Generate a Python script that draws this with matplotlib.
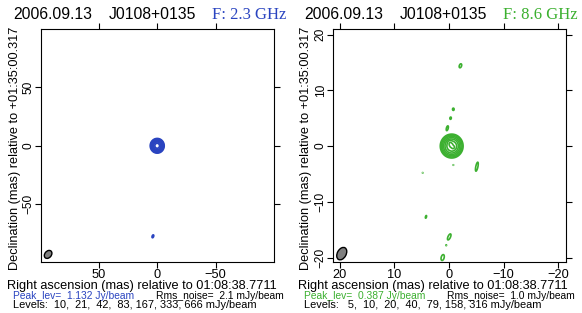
import numpy as np
import matplotlib
matplotlib.use("Agg")
import matplotlib.pyplot as plt
from matplotlib.patches import Ellipse

# ---------------- data ----------------
date = "2006.09.13"
source = "J0108+0135"
ylab = "Declination (mas) relative to +01:35:00.317"
xlab = "Right ascension (mas) relative to 01:08:38.7711"

# Left panel: 2.3 GHz model components (x mas, y mas, peak mJy/beam, major sigma, minor sigma, PA deg)
s_x = [0.0, 0.4, 3.7]
s_y = [0.0, 0.3, -77.5]
s_peak = [1100, 60, 14]
s_maj = [2.05, 1.5, 1.6]
s_min = [1.95, 1.2, 0.8]
s_pa = [0, 0, -20]
s_levels = [10, 21, 42, 83, 167, 333, 666]
s_beam = [93.4, -93.0, 7.6, 5.6, -40]  # x, y, major, minor, PA
s_ticks = [50, 0, -50]

# Right panel: 8.6 GHz model components
x_x = [-0.5, -0.2, -0.9, -0.8, -0.3, 0.3, -0.8, -5.1, 4.8, -2.1, 4.2, -0.05, 0.5, 1.15]
x_y = [0.0, 0.5, -0.3, 6.6, 5.0, 3.2, -3.4, -3.7, -4.8, 14.4, -12.7, -16.3, -17.8, -20.0]
x_peak = [330, 120, 80, 7, 7, 8, 5.6, 8, 5.6, 7, 6.5, 7.5, 5.6, 7.5]
x_maj = [0.74, 0.35, 0.3, 0.25, 0.25, 0.45, 0.12, 0.85, 0.12, 0.45, 0.35, 0.65, 0.14, 0.6]
x_min = [0.72, 0.25, 0.2, 0.18, 0.16, 0.17, 0.1, 0.2, 0.1, 0.25, 0.13, 0.25, 0.1, 0.3]
x_pa = [0, 30, -40, 0, -10, -15, 0, -12, 0, -20, -15, -25, 0, -15]
x_levels = [5, 10, 20, 40, 79, 158, 316]
x_beam = [19.6, -19.3, 2.4, 1.6, -30]
x_ticks = [20, 10, 0, -10, -20]

panels = [
    dict(x=s_x, y=s_y, peak=s_peak, maj=s_maj, mn=s_min, pa=s_pa, levels=s_levels,
         beam=s_beam, ticks=s_ticks, lim=(99.5, -100), ylim=(-99.5, 100),
         color="#2a44c0", freq="F: 2.3 GHz", peaktxt="Peak_lev=  1.132 Jy/beam",
         rms="Rms_noise=  2.1 mJy/beam",
         lev="Levels:  10,  21,  42,  83, 167, 333, 666 mJy/beam", res=0.25),
    dict(x=x_x, y=x_y, peak=x_peak, maj=x_maj, mn=x_min, pa=x_pa, levels=x_levels,
         beam=x_beam, ticks=x_ticks, lim=(21.2, -21.4), ylim=(-20.8, 21.0),
         color="#3cb030", freq="F: 8.6 GHz", peaktxt="Peak_lev=  0.387 Jy/beam",
         rms="Rms_noise=  1.0 mJy/beam",
         lev="Levels:   5,  10,  20,  40,  79, 158, 316 mJy/beam", res=0.04),
]

W, H = 582, 313
fig = plt.figure(figsize=(W / 100, H / 100), dpi=100)
plt.rcParams['font.family'] = ['Liberation Sans', 'DejaVu Sans']

ax_left_px = [41, 333]
for i, p in enumerate(panels):
    l = ax_left_px[i]
    ax = fig.add_axes([l / W, 1 - 262 / H, 233 / W, 233 / H])
    xs = np.arange(min(p["lim"]), max(p["lim"]), p["res"])
    ys = np.arange(min(p["ylim"]), max(p["ylim"]), p["res"])
    X, Y = np.meshgrid(xs, ys)
    Z = np.zeros_like(X)
    for cx, cy, pk, a, b, pa in zip(p["x"], p["y"], p["peak"], p["maj"], p["mn"], p["pa"]):
        t = np.deg2rad(pa)
        dx, dy = X - cx, Y - cy
        u = dx * np.sin(t) + dy * np.cos(t)
        v = dx * np.cos(t) - dy * np.sin(t)
        Z += pk * np.exp(-0.5 * ((u / a) ** 2 + (v / b) ** 2))
    ax.contour(X, Y, Z, levels=p["levels"], colors=p["color"], linewidths=1.2)
    bx, by, bmaj, bmin, bpa = p["beam"]
    ax.add_patch(Ellipse((bx, by), width=bmin, height=bmaj, angle=-bpa,
                         facecolor="#808080", edgecolor="black", lw=1.0))
    ax.set_xlim(*p["lim"])
    ax.set_ylim(*p["ylim"])
    ax.set_xticks(p["ticks"])
    ax.set_yticks(p["ticks"])
    ax.tick_params(direction="out", length=4, width=0.8, top=True, right=True,
                   labelsize=9.2, pad=1.0)
    ax.tick_params(axis="y", labelsize=8.6, pad=0.5)
    for lab in ax.get_yticklabels():
        lab.set_rotation(90)
        lab.set_va("center")
    for s in ax.spines.values():
        s.set_linewidth(0.8)

    off = 0 if i == 0 else 291
    fig.text((15.5 + off) / W, 1 - 148.5 / H, ylab, fontsize=9.2, rotation=90,
             ha="center", va="center")
    fig.text((7 + off) / W, 1 - 288.5 / H, xlab, fontsize=9.2, va="baseline")
    fig.text((13 + off) / W, 1 - 19 / H, date, fontsize=11.3, va="baseline")
    fig.text((109 + off) / W, 1 - 19 / H, source, fontsize=11.3, va="baseline")
    fig.text((212 + off) / W, 1 - 19 / H, p["freq"], fontsize=12, va="baseline",
             color=p["color"], family=["Liberation Serif", "DejaVu Serif"])
    fig.text((13 + off) / W, 1 - 299 / H, p["peaktxt"], fontsize=7.4, va="baseline",
             color=p["color"])
    fig.text((156 + off) / W, 1 - 299 / H, p["rms"], fontsize=7.4, va="baseline")
    fig.text((13 + off) / W, 1 - 308.5 / H, p["lev"], fontsize=7.9, va="baseline")

fig.savefig("out.png", dpi=100)
